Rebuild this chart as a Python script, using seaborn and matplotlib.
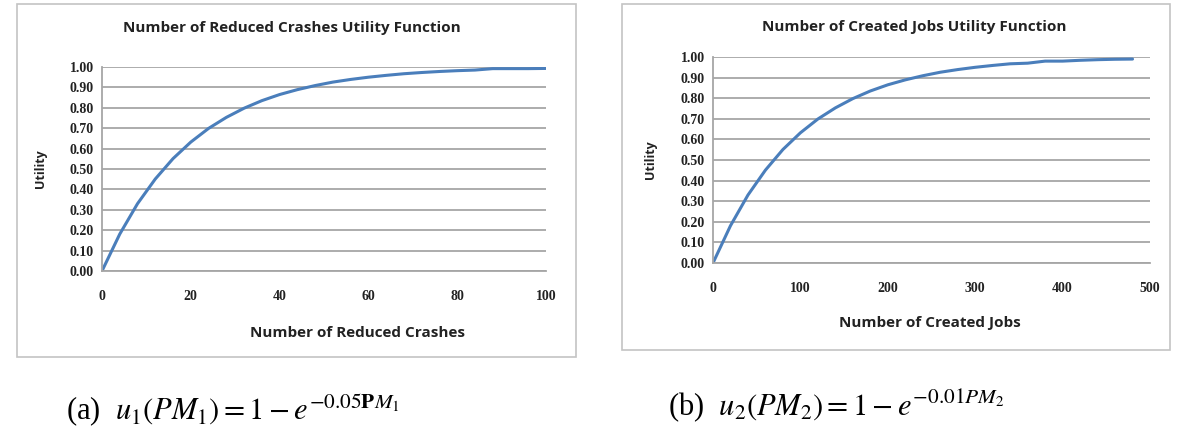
import matplotlib
matplotlib.use("Agg")
import matplotlib.pyplot as plt
from matplotlib.patches import Rectangle
import seaborn as sns
import pandas as pd

# Reduced crashes utility curve
crashes = [0, 4, 8, 12, 16, 20, 24, 28, 32, 36, 40, 44, 48, 52, 56, 60, 64, 68, 72,
           76, 80, 84, 88, 92, 96, 100]
crash_utility = [0.000, 0.181, 0.330, 0.451, 0.551, 0.632, 0.699, 0.753, 0.798, 0.835,
                 0.865, 0.889, 0.909, 0.926, 0.939, 0.950, 0.959, 0.967, 0.973, 0.978,
                 0.982, 0.985, 0.992, 0.992, 0.992, 0.993]

# Created jobs utility curve
jobs = [0, 20, 40, 60, 80, 100, 120, 140, 160, 180, 200, 220, 240, 260, 280, 300,
        320, 340, 360, 380, 400, 420, 440, 460, 480]
jobs_utility = [0.000, 0.181, 0.330, 0.451, 0.551, 0.632, 0.699, 0.753, 0.798, 0.835,
                0.865, 0.889, 0.909, 0.926, 0.939, 0.950, 0.959, 0.967, 0.970, 0.980,
                0.980, 0.984, 0.987, 0.989, 0.990]

y_ticks = [0.0, 0.1, 0.2, 0.3, 0.4, 0.5, 0.6, 0.7, 0.8, 0.9, 1.0]
crash_ticks = [0, 20, 40, 60, 80, 100]
job_ticks = [0, 100, 200, 300, 400, 500]

titles = ["Number of Reduced Crashes Utility Function", "Number of Created Jobs Utility Function"]
xlabels = ["Number of Reduced Crashes", "Number of Created Jobs"]
captions = [r"(a)  $u_1(PM_1) = 1 - e^{-0.05\mathbf{P}M_1}$",
            r"(b)  $u_2(PM_2) = 1 - e^{-0.01PM_2}$"]

sns.set_theme(style="white")
plt.rcParams["mathtext.fontset"] = "stix"

W, H = 1183, 434
fig = plt.figure(figsize=(W / 100, H / 100), dpi=100)
fig.patch.set_facecolor("white")


def px_axes(x0, x1, ytop, ybot):
    return fig.add_axes([x0 / W, (H - ybot) / H, (x1 - x0) / W, (ybot - ytop) / H])


def px_box(x0, x1, ytop, ybot):
    fig.add_artist(Rectangle((x0 / W, (H - ybot) / H), (x1 - x0) / W, (ybot - ytop) / H,
                             transform=fig.transFigure, fill=False,
                             edgecolor="#c4c4c4", linewidth=1.2))


panels = [
    dict(df=pd.DataFrame({"x": crashes, "u": crash_utility}), xt=crash_ticks, xmax=100,
         area=(102, 546, 67, 271), box=(17, 576, 4, 357),
         title_x=292, title_y=28, ylabel_x=40, xlabel_x=357, xlabel_y=333,
         caption_x=66, caption_y=411),
    dict(df=pd.DataFrame({"x": jobs, "u": jobs_utility}), xt=job_ticks, xmax=500,
         area=(713, 1150, 57, 263), box=(622, 1170, 4, 350),
         title_x=914, title_y=27, ylabel_x=651, xlabel_x=930, xlabel_y=323,
         caption_x=668, caption_y=406),
]

for i, p in enumerate(panels):
    x0, x1, yt, yb = p["area"]
    px_box(*p["box"])
    ax = px_axes(x0, x1, yt, yb)
    sns.lineplot(data=p["df"], x="x", y="u", ax=ax, color="#4a7ebb", linewidth=2.2)
    ax.set_xlim(0, p["xmax"])
    ax.set_ylim(0, 1.0)
    ax.set_yticks(y_ticks)
    ax.set_yticklabels([f"{v:.2f}" for v in y_ticks])
    ax.set_xticks(p["xt"])
    ax.set_xticklabels([str(v) for v in p["xt"]])
    for lab in ax.get_xticklabels() + ax.get_yticklabels():
        lab.set_fontfamily("Liberation Serif")
        lab.set_fontweight("bold")
        lab.set_fontsize(10)
        lab.set_color("#222222")
    ax.tick_params(axis="y", length=0, pad=6)
    ax.tick_params(axis="x", length=0, pad=14)
    ax.grid(axis="y", color="#a6a6a6", linewidth=1.3)
    ax.grid(axis="x", visible=False)
    ax.set_axisbelow(True)
    for side in ["top", "right"]:
        ax.spines[side].set_visible(False)
    for side in ["left", "bottom"]:
        ax.spines[side].set_color("#a6a6a6")
        ax.spines[side].set_linewidth(1.3)
    ax.set_xlabel("")
    ax.set_ylabel("")

    fig.text(p["title_x"] / W, 1 - p["title_y"] / H, titles[i],
             ha="center", va="center", fontsize=11, fontweight="bold",
             family="Open Sans", color="#222222")
    fig.text(p["xlabel_x"] / W, 1 - p["xlabel_y"] / H, xlabels[i],
             ha="center", va="center", fontsize=11, fontweight="bold",
             family="Open Sans", color="#222222")
    fig.text(p["ylabel_x"] / W, 1 - ((yt + yb) / 2) / H, "Utility",
             ha="center", va="center", rotation=90, fontsize=9, fontweight="bold",
             family="Open Sans", color="#222222")
    fig.text(p["caption_x"] / W, 1 - p["caption_y"] / H, captions[i],
             ha="left", va="center", fontsize=22, family="Liberation Serif", color="black")

fig.savefig("out.png", dpi=100, facecolor="white")
